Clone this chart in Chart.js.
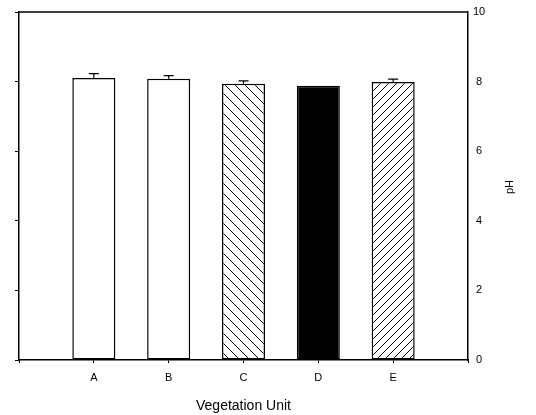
<!DOCTYPE html>
<html>
<head>
<meta charset="utf-8">
<script src="https://cdn.jsdelivr.net/npm/chart.js@4/dist/chart.umd.min.js"></script>
<style>
  body { margin: 0; background: #fff; }
  #wrap { width: 536px; height: 415px; }
</style>
</head>
<body>
<div id="wrap"><canvas id="phChart"></canvas></div>
<script>
// data
const units = ['A', 'B', 'C', 'D', 'E'];
const phMeans = [8.10, 8.08, 7.94, 7.88, 7.99];
const phErrors = [0.13, 0.09, 0.08, 0, 0.08];
const phTicks = [0, 2, 4, 6, 8, 10];

const FONT = '"Liberation Sans", Arial, sans-serif';

// hatch fill for a bar
function makeHatch(size, forward) {
    const c = document.createElement('canvas');
    c.width = size;
    c.height = size;
    const g = c.getContext('2d');
    g.fillStyle = '#fff';
    g.fillRect(0, 0, size, size);
    g.strokeStyle = '#000';
    g.lineWidth = 1;
    g.beginPath();
    if (forward) {
        // "/" lines
        g.moveTo(-1, size + 1); g.lineTo(size + 1, -1);
        g.moveTo(-1, 1); g.lineTo(1, -1);
        g.moveTo(size - 1, size + 1); g.lineTo(size + 1, size - 1);
    } else {
        // "\" lines
        g.moveTo(-1, -1); g.lineTo(size + 1, size + 1);
        g.moveTo(size - 1, -1); g.lineTo(size + 1, 1);
        g.moveTo(-1, size - 1); g.lineTo(1, size + 1);
    }
    g.stroke();
    return g.createPattern(c, 'repeat');
}

const fills = ['#ffffff', '#ffffff', makeHatch(10, false), '#000000', makeHatch(8, true)];

// empty slot either side so the bars sit like the original
const labels = [''].concat(units, ['']);
const values = [null].concat(phMeans, [null]);
const barFills = ['#fff'].concat(fills, ['#fff']);

const errorBars = {
    id: 'errorBars',
    afterDatasetsDraw(chart) {
        const ctx = chart.ctx;
        const meta = chart.getDatasetMeta(0);
        const y = chart.scales.y;
        ctx.save();
        ctx.strokeStyle = '#000';
        ctx.lineWidth = 1.2;
        phMeans.forEach((v, i) => {
            if (!phErrors[i]) return;
            const bar = meta.data[i + 1];
            const top = y.getPixelForValue(v + phErrors[i]);
            const base = y.getPixelForValue(v);
            ctx.beginPath();
            ctx.moveTo(bar.x, base);
            ctx.lineTo(bar.x, top);
            ctx.moveTo(bar.x - 5, top);
            ctx.lineTo(bar.x + 5, top);
            ctx.stroke();
        });
        ctx.restore();
    }
};

const frame = {
    id: 'frame',
    afterDraw(chart) {
        const ctx = chart.ctx;
        const a = chart.chartArea;
        ctx.save();
        ctx.strokeStyle = '#000';
        ctx.lineWidth = 1.5;
        ctx.beginPath();
        ctx.moveTo(a.left, a.top);
        ctx.lineTo(a.right, a.top);
        ctx.stroke();
        // right axis title, reading upward
        ctx.translate(510, 187);
        ctx.rotate(-Math.PI / 2);
        ctx.fillStyle = '#000';
        ctx.font = '11px ' + FONT;
        ctx.textAlign = 'center';
        ctx.textBaseline = 'middle';
        ctx.fillText('pH', 0, 0);
        ctx.restore();
    }
};

new Chart(document.getElementById('phChart'), {
    type: 'bar',
    data: {
        labels: labels,
        datasets: [{
            data: values,
            backgroundColor: barFills,
            borderColor: '#000',
            borderWidth: 1.5,
            borderSkipped: false,
            categoryPercentage: 1,
            barPercentage: 0.575
        }]
    },
    options: {
        responsive: true,
        maintainAspectRatio: false,
        animation: false,
        layout: { padding: { top: 12, left: 0, right: 0, bottom: 0 } },
        plugins: {
            legend: { display: false },
            tooltip: { enabled: false }
        },
        scales: {
            x: {
                offset: false,
                grid: { drawOnChartArea: false, offset: false, color: '#000', tickLength: 3 },
                border: { display: true, color: '#000', width: 1.5 },
                ticks: { color: '#000', font: { family: FONT, size: 11 }, padding: 8, maxRotation: 0, autoSkip: false },
                title: {
                    display: true,
                    text: 'Vegetation Unit',
                    color: '#000',
                    font: { family: FONT, size: 14 },
                    padding: { top: 4, bottom: 0 }
                },
                afterFit(scale) { scale.height = 55; }
            },
            y: {
                position: 'left',
                min: 0,
                max: 10,
                grid: { drawOnChartArea: false, color: '#000', tickLength: 4 },
                border: { display: true, color: '#000', width: 1.5 },
                ticks: { display: false, stepSize: 2 },
                afterFit(scale) { scale.width = 19; }
            },
            y2: {
                position: 'right',
                min: 0,
                max: 10,
                grid: { display: false, drawTicks: false },
                border: { display: true, color: '#000', width: 1.5 },
                ticks: {
                    color: '#000',
                    font: { family: FONT, size: 11 },
                    padding: 5,
                    crossAlign: 'center',
                    stepSize: 2,
                    callback: (v) => phTicks.includes(v) ? String(v) : ''
                },
                afterFit(scale) { scale.width = 68; }
            }
        }
    },
    plugins: [errorBars, frame]
});
</script>
</body>
</html>
